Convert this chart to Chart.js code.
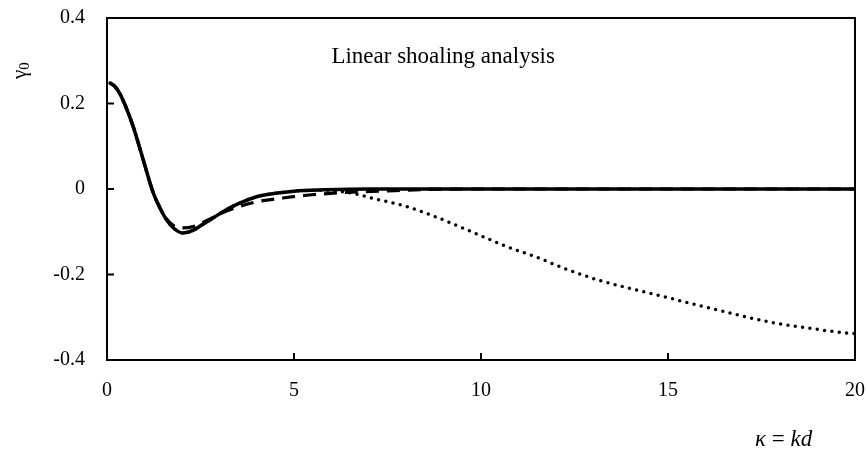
<!DOCTYPE html>
<html>
<head>
<meta charset="utf-8">
<script src="https://cdn.jsdelivr.net/npm/chart.js@4/dist/chart.umd.min.js"></script>
<style>
  html, body { margin: 0; padding: 0; background: #fff; }
</style>
</head>
<body>
<canvas id="shoaling" width="867" height="450"></canvas>
<script>
// kappa = kd values and gamma_0 for the three curves
const kSolid = [0.08, 0.2, 0.35, 0.5, 0.7, 0.97, 1.24, 1.42, 1.6, 1.8, 2.04, 2.3, 2.5, 2.8, 3.1, 3.5, 4.0, 4.5, 5.0, 5.8, 7.0, 10, 15, 20];
const gSolid = [0.248, 0.241, 0.222, 0.193, 0.146, 0.068, -0.01, -0.045, -0.073, -0.093, -0.103, -0.097, -0.086, -0.07, -0.053, -0.035, -0.018, -0.01, -0.005, -0.002, 0, 0, 0, 0];

const kDashed = [0.08, 0.2, 0.35, 0.5, 0.7, 0.97, 1.24, 1.42, 1.6, 1.8, 2.0, 2.3, 2.5, 2.8, 3.1, 3.4, 4.0, 4.7, 5.4, 6.2, 6.9, 7.7, 8.5, 9.5, 15, 20];
const gDashed = [0.248, 0.241, 0.222, 0.193, 0.146, 0.068, -0.01, -0.045, -0.071, -0.087, -0.091, -0.088, -0.081, -0.068, -0.055, -0.045, -0.03, -0.021, -0.014, -0.009, -0.006, -0.004, -0.001, 0, 0, 0];

const kDotted = [0.08, 0.2, 0.35, 0.5, 0.7, 0.97, 1.24, 1.42, 1.6, 1.8, 2.04, 2.3, 2.5, 2.8, 3.1, 3.5, 4.0, 4.5, 5.0, 5.8, 6.5, 7.12, 8.0, 8.9, 9.8, 10.7, 11.5, 12.3, 13.1, 14.0, 14.9, 15.8, 16.8, 17.7, 18.8, 19.8, 20];
const gDotted = [0.248, 0.241, 0.222, 0.193, 0.146, 0.068, -0.01, -0.045, -0.073, -0.093, -0.103, -0.097, -0.086, -0.07, -0.053, -0.035, -0.018, -0.01, -0.005, -0.003, -0.009, -0.022, -0.041, -0.069, -0.102, -0.135, -0.16, -0.188, -0.212, -0.233, -0.252, -0.272, -0.293, -0.311, -0.326, -0.337, -0.338];

const xTicks = [0, 5, 10, 15, 20];
const yTicks = [-0.4, -0.2, 0, 0.2, 0.4];

const SERIF = '"Liberation Serif", "Times New Roman", serif';
const pts = (xs, ys) => xs.map((x, i) => ({ x, y: ys[i] }));

// frame, inward ticks and the free text labels
const decorations = {
  id: 'decorations',
  afterDraw(chart) {
    const { ctx, chartArea: a, scales: { x, y } } = chart;
    ctx.save();
    ctx.strokeStyle = '#000';
    ctx.lineWidth = 2;
    ctx.strokeRect(a.left, a.top, a.right - a.left, a.bottom - a.top);
    ctx.beginPath();
    xTicks.forEach(v => {
      const px = x.getPixelForValue(v);
      ctx.moveTo(px, a.bottom); ctx.lineTo(px, a.bottom - 7);
    });
    yTicks.forEach(v => {
      const py = y.getPixelForValue(v);
      ctx.moveTo(a.left, py); ctx.lineTo(a.left + 7, py);
    });
    ctx.stroke();

    ctx.fillStyle = '#000';
    ctx.textBaseline = 'alphabetic';
    ctx.textAlign = 'left';
    ctx.font = '23px ' + SERIF;
    ctx.fillText('Linear shoaling analysis', x.getPixelForValue(6.0), y.getPixelForValue(0.295));

    // y title: gamma with subscript 0, rotated
    ctx.save();
    ctx.translate(26, 79);
    ctx.rotate(-Math.PI / 2);
    ctx.font = '21px ' + SERIF;
    ctx.fillText('γ', 0, 0);
    const gw = ctx.measureText('γ').width;
    ctx.font = '15px ' + SERIF;
    ctx.fillText('0', gw, 3);
    ctx.restore();

    // x title: kappa = kd
    let tx = 755;
    const ty = 446;
    ctx.font = 'italic 23px ' + SERIF;
    ctx.fillText('κ', tx, ty); tx += ctx.measureText('κ ').width;
    ctx.font = '23px ' + SERIF;
    ctx.fillText('=', tx, ty); tx += ctx.measureText('= ').width;
    ctx.font = 'italic 23px ' + SERIF;
    ctx.fillText('kd', tx, ty);
    ctx.restore();
  }
};

new Chart(document.getElementById('shoaling'), {
  type: 'line',
  data: {
    datasets: [
      {
        label: 'dotted',
        data: pts(kDotted, gDotted),
        borderColor: '#000',
        borderWidth: 3.5,
        borderDash: [0, 7.4],
        borderCapStyle: 'round',
        pointRadius: 0,
        cubicInterpolationMode: 'monotone'
      },
      {
        label: 'dashed',
        data: pts(kDashed, gDashed),
        borderColor: '#000',
        borderWidth: 3.2,
        borderDash: [13, 8],
        pointRadius: 0,
        cubicInterpolationMode: 'monotone'
      },
      {
        label: 'solid',
        data: pts(kSolid, gSolid),
        borderColor: '#000',
        borderWidth: 3.5,
        pointRadius: 0,
        cubicInterpolationMode: 'monotone'
      }
    ]
  },
  options: {
    responsive: false,
    devicePixelRatio: 1,
    animation: false,
    layout: { padding: { top: 18, right: 12, left: 0, bottom: 0 } },
    plugins: { legend: { display: false }, tooltip: { enabled: false } },
    scales: {
      x: {
        type: 'linear',
        min: 0, max: 20,
        afterFit: s => { s.height = 90; s.paddingLeft = 0; s.paddingRight = 0; },
        afterBuildTicks: s => { s.ticks = xTicks.map(v => ({ value: v })); },
        grid: { display: false, drawTicks: false },
        border: { display: false },
        ticks: { color: '#000', padding: 19, font: { family: SERIF, size: 20 }, maxRotation: 0 }
      },
      y: {
        type: 'linear',
        min: -0.4, max: 0.4,
        afterFit: s => { s.width = 107; s.paddingTop = 0; s.paddingBottom = 0; },
        afterBuildTicks: s => { s.ticks = yTicks.map(v => ({ value: v })); },
        grid: { display: false, drawTicks: false },
        border: { display: false },
        ticks: {
          color: '#000', padding: 22, font: { family: SERIF, size: 20 },
          callback: v => String(+v.toFixed(1))
        }
      }
    }
  },
  plugins: [decorations]
});
</script>
</body>
</html>
